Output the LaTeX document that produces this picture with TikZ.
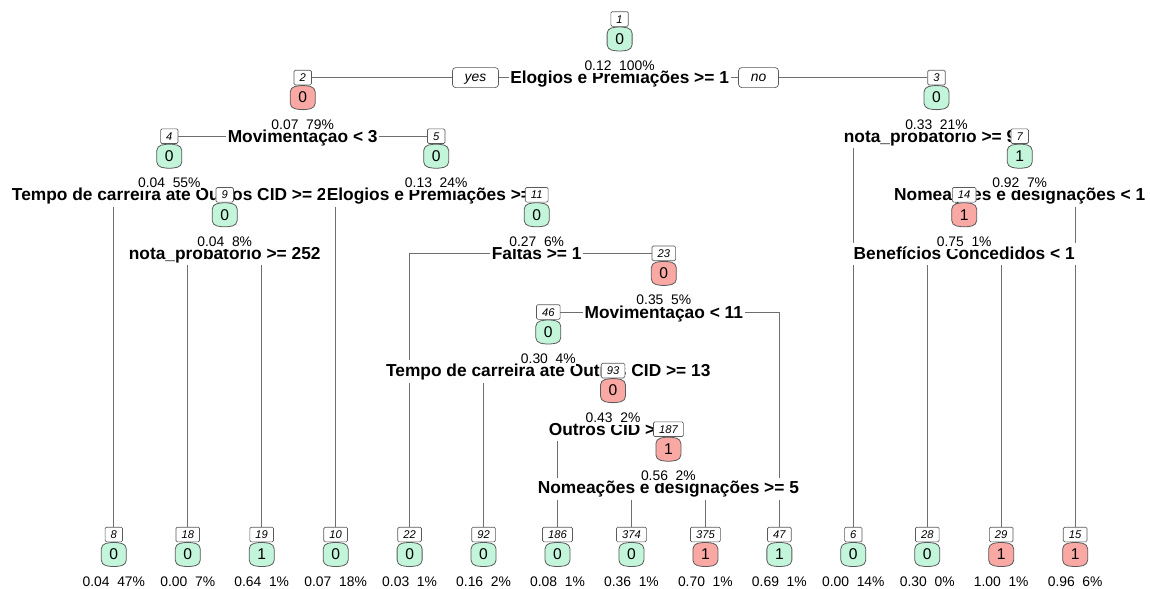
\documentclass[tikz,border=0pt]{standalone}
\usepackage{fontspec}
\setmainfont{Liberation Sans}
\pgfdeclarelayer{bg}
\pgfsetlayers{bg,main}

\definecolor{leafgreen}{HTML}{C2F5DA}
\definecolor{leafred}{HTML}{F9A8A3}
\definecolor{boxline}{HTML}{5A5A5A}
\definecolor{branch}{HTML}{6E6E6E}

\tikzset{
  splitlbl/.style={font=\fontsize{13}{15}\selectfont\bfseries, fill=white,
    inner sep=1.2pt, text height=11pt, text depth=3.2pt, anchor=base, yshift=-4.6pt},
  splitw/.style={splitlbl, anchor=base west},
  statlbl/.style={font=\fontsize{10.4}{12}\selectfont, fill=white,
    inner sep=0.6pt, text depth=1.2pt, anchor=base},
  numbox/.style={draw=boxline, fill=white, line width=0.5pt, rounded corners=1pt,
    font=\fontsize{8.4}{10}\selectfont\itshape, inner xsep=4.2pt, inner ysep=0pt,
    minimum height=11pt, text height=6.2pt, text depth=0pt},
  clstext/.style={font=\fontsize{11.7}{13}\selectfont, inner sep=0pt},
  yesno/.style={draw=boxline, fill=white, line width=0.5pt, rounded corners=2.5pt,
    font=\fontsize{10.4}{12}\selectfont\itshape, minimum height=15pt,
    inner xsep=9.2pt, inner ysep=0pt, text height=7.5pt, text depth=2pt},
  edge/.style={draw=branch, line width=0.75pt}
}

% class box: rounded, slightly pointed top and bottom
\newcommand{\clsbox}[5]{%
  \begin{scope}[shift={(#2,#3)}]
    \filldraw[fill=#5, draw=boxline, line width=0.6pt, rounded corners=3.5pt]
      (-12.5,-10.3) -- (0,-12.5) -- (12.5,-10.3) -- (12.5,10.3) -- (0,12.5) -- (-12.5,10.3) -- cycle;
    \node[clstext] (#1) at (0,0) {#4};
  \end{scope}}

% inner tree node: id, x, y, fill, class, stats
\newcommand{\treenode}[6]{%
  \clsbox{c#1}{#2}{#3+20}{#5}{#4}
  \node[numbox] (n#1) at (#2,#3) {#1};
  \node[statlbl] (p#1) at (#2,#3+51.5) {#6};}

% leaf: id, x, fill, class, stats
\newcommand{\leafnode}[5]{\treenode{#1}{#2}{534.5}{#3}{#4}{#5}}

\begin{document}
\begin{tikzpicture}[x=0.75pt, y=-0.75pt]
\useasboundingbox (0,0) rectangle (1150,589);

% split labels
\node[splitlbl] (s1) at (619.6,77.6) {Elogios e Premiações >= 1};
\node[splitlbl] (s2) at (302.7,136.2) {Movimentaçao < 3};
\node[splitw]   (s3) at (842,136.2) {nota\_probatorio >= 9};
\node[splitlbl] (s4) at (169.3,194.8) {Tempo de carreira ate Outros CID >= 2};
\node[splitlbl] (s5) at (436.2,194.8) {Elogios e Premiações >= 1};
\node[splitlbl] (s7) at (1019.7,194.8) {Nomeações e designações < 1};
\node[splitlbl] (s9) at (224.7,253.4) {nota\_probatorio >= 252};
\node[splitlbl] (s11) at (536.7,253.4) {Faltas >= 1};
\node[splitlbl] (s14) at (964.2,253.4) {Benefícios Concedidos < 1};
\node[splitlbl] (s23) at (663.8,312) {Movimentaçao < 11};
\node[splitlbl] (s46) at (548.3,370.6) {Tempo de carreira ate Outros CID >= 13};
\node[splitw]   (s93) at (547,429.2) {Outros CID >};
\node[splitlbl] (s187) at (668.4,487.8) {Nomeações e designações >= 5};

% junctions of the branches that end in two leaves
\coordinate (j9) at (224.7,253.4);
\coordinate (j14) at (964.2,253.4);
\coordinate (j187) at (668.4,487.8);

\node[yesno] (yes) at (475.5,77.6) {yes};
\node[yesno] (no) at (758.5,77.6) {no};

% inner nodes
\treenode{1}{619.6}{19}{leafgreen}{0}{0.12\ \ 100\%}
\treenode{2}{302.7}{77.6}{leafred}{0}{0.07\ \ 79\%}
\treenode{3}{936.5}{77.6}{leafgreen}{0}{0.33\ \ 21\%}
\treenode{4}{169.3}{136.2}{leafgreen}{0}{0.04\ \ 55\%}
\treenode{5}{436.2}{136.2}{leafgreen}{0}{0.13\ \ 24\%}
\treenode{7}{1019.7}{136.2}{leafgreen}{1}{0.92\ \ 7\%}
\treenode{9}{224.7}{194.8}{leafgreen}{0}{0.04\ \ 8\%}
\treenode{11}{536.7}{194.8}{leafgreen}{0}{0.27\ \ 6\%}
\treenode{14}{964.2}{194.8}{leafred}{1}{0.75\ \ 1\%}
\treenode{23}{663.8}{253.4}{leafred}{0}{0.35\ \ 5\%}
\treenode{46}{548.3}{312}{leafgreen}{0}{0.30\ \ 4\%}
\treenode{93}{613}{370.6}{leafred}{0}{0.43\ \ 2\%}
\treenode{187}{668.4}{429.2}{leafred}{1}{0.56\ \ 2\%}

% leaves
\leafnode{8}{113.8}{leafgreen}{0}{0.04\ \ 47\%}
\leafnode{18}{187.75}{leafgreen}{0}{0.00\ \ 7\%}
\leafnode{19}{261.7}{leafgreen}{1}{0.64\ \ 1\%}
\leafnode{10}{335.65}{leafgreen}{0}{0.07\ \ 18\%}
\leafnode{22}{409.6}{leafgreen}{0}{0.03\ \ 1\%}
\leafnode{92}{483.55}{leafgreen}{0}{0.16\ \ 2\%}
\leafnode{186}{557.5}{leafgreen}{0}{0.08\ \ 1\%}
\leafnode{374}{631.45}{leafgreen}{0}{0.36\ \ 1\%}
\leafnode{375}{705.4}{leafred}{1}{0.70\ \ 1\%}
\leafnode{47}{779.35}{leafgreen}{1}{0.69\ \ 1\%}
\leafnode{6}{853.3}{leafgreen}{0}{0.00\ \ 14\%}
\leafnode{28}{927.25}{leafgreen}{0}{0.30\ \ 0\%}
\leafnode{29}{1001.2}{leafred}{1}{1.00\ \ 1\%}
\leafnode{15}{1075.15}{leafred}{1}{0.96\ \ 6\%}

% white page and branches, behind everything
\begin{pgfonlayer}{bg}
\fill[white] (0,0) rectangle (1150,589);
\draw[edge] (n2.east) -- (n3.west);
\draw[edge] (n4.east) -- (n5.west);
\draw[edge] (n6.north) |- (n7.west);
\draw[edge] (n8.north) |- (n9.west);
\draw[edge] (n10.north) |- (n11.west);
\draw[edge] (n18.north) |- (j9) -| (n19.north);
\draw[edge] (n22.north) |- (n23.west);
\draw[edge] (n46.east) -| (n47.north);
\draw[edge] (n92.north) |- (n93.west);
\draw[edge] (n186.north) |- (n187.west);
\draw[edge] (n374.north) |- (j187) -| (n375.north);
\draw[edge] (n14.east) -| (n15.north);
\draw[edge] (n28.north) |- (j14) -| (n29.north);
\end{pgfonlayer}
\end{tikzpicture}
\end{document}
